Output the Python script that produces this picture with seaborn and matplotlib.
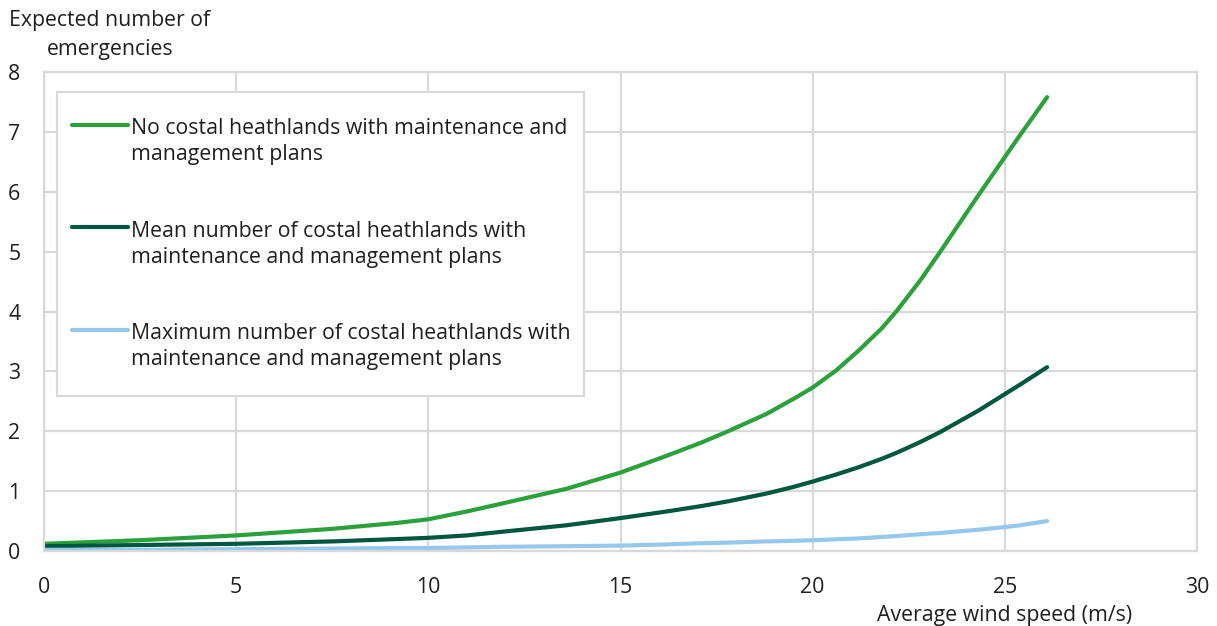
import pandas as pd
import matplotlib
matplotlib.use("Agg")
import matplotlib.pyplot as plt
from matplotlib.patches import Rectangle
import seaborn as sns

# values
wind_speed = [0, 2.5, 5, 7.5, 9.2, 10, 11, 11.9, 13.6, 15, 16.2, 17.1, 17.8, 18.8, 19.5,
              20, 20.6, 21.2, 21.8, 22.2, 22.8, 23.3, 24.3, 25, 25.4, 26.1]
no_plans = [0.12, 0.18, 0.26, 0.37, 0.47, 0.53, 0.66, 0.79, 1.04, 1.31, 1.59, 1.81, 2.0, 2.29, 2.54,
            2.73, 3.01, 3.35, 3.72, 4.02, 4.52, 4.98, 5.93, 6.58, 6.95, 7.58]
mean_plans = [0.08, 0.10, 0.12, 0.16, 0.20, 0.22, 0.26, 0.32, 0.43, 0.55, 0.66, 0.75, 0.83, 0.96, 1.07,
              1.16, 1.275, 1.40, 1.54, 1.645, 1.82, 1.98, 2.34, 2.62, 2.78, 3.07]
max_plans = [0.02, 0.02, 0.03, 0.04, 0.05, 0.05, 0.06, 0.07, 0.08, 0.09, 0.11, 0.13, 0.14, 0.16, 0.17,
             0.18, 0.195, 0.21, 0.235, 0.25, 0.28, 0.30, 0.355, 0.40, 0.43, 0.50]

series_names = [
    "No costal heathlands with maintenance and\nmanagement plans",
    "Mean number of costal heathlands with\nmaintenance and management plans",
    "Maximum number of costal heathlands with\nmaintenance and management plans",
]
colors = ["#2aa13a", "#00573f", "#96c8ed"]

frames = []
for name, vals in zip(series_names, [no_plans, mean_plans, max_plans]):
    frames.append(pd.DataFrame({"speed": wind_speed, "value": vals, "series": name}))
df = pd.concat(frames)

sns.set_style("white")
plt.rcParams["font.family"] = ["Open Sans", "DejaVu Sans"]
text_color = "#1f1f1f"
grid_color = "#d9d9d9"
fs = 15.3

fig = plt.figure(figsize=(12.17, 6.26), dpi=100)
ax = fig.add_axes([44 / 1217, 1 - 551 / 626, (1197 - 44) / 1217, (551 - 72) / 626])

sns.lineplot(data=df, x="speed", y="value", hue="series", palette=colors,
             linewidth=3, ax=ax, solid_capstyle="round")

ax.set_xlim(0, 30)
ax.set_ylim(0, 8)
ax.set_xticks(range(0, 31, 5))
ax.set_yticks(range(0, 9))
ax.grid(True, color=grid_color, linewidth=1.6)
ax.set_axisbelow(True)
for sp in ax.spines.values():
    sp.set_color(grid_color)
    sp.set_linewidth(1.6)
ax.tick_params(axis="both", length=0, labelsize=fs, colors=text_color)
ax.tick_params(axis="x", pad=18.5)
ax.tick_params(axis="y", pad=17)
ax.set_xlabel("")
ax.set_ylabel("")

leg = ax.legend(loc="upper left", bbox_to_anchor=(0.0243, 0.904), fontsize=fs,
                frameon=False, labelspacing=2.6, handlelength=2.65,
                handletextpad=0.12, borderpad=0, borderaxespad=0)
for t in leg.get_texts():
    t.set_color(text_color)
    t.set_linespacing(1.33)
# align legend handles with the first line of each label
for line in leg.get_lines():
    line.set_linewidth(3)
    yd = line.get_ydata()
    line.set_ydata([y + 12.4 for y in yd])

# legend frame with more room above and below than at the sides
fig.canvas.draw()
bb = leg.get_window_extent()
x0, y0 = fig.transFigure.inverted().transform((bb.x0 - 15, bb.y0 - 26))
x1, y1 = fig.transFigure.inverted().transform((bb.x1 + 13, bb.y1 + 26))
frame = Rectangle((x0, y0), x1 - x0, y1 - y0, transform=fig.transFigure,
                  facecolor="white", edgecolor=grid_color, linewidth=1.6, zorder=4)
ax.add_artist(frame)
leg.set_zorder(5)

fig.text(110 / 1217, 1 - 35 / 626, "Expected number of\nemergencies", ha="center",
         va="center", fontsize=fs, color=text_color, linespacing=1.45)
fig.text(1005 / 1217, 1 - 615 / 626, "Average wind speed (m/s)", ha="center",
         va="center", fontsize=fs, color=text_color)

fig.savefig("out.png", dpi=100)
